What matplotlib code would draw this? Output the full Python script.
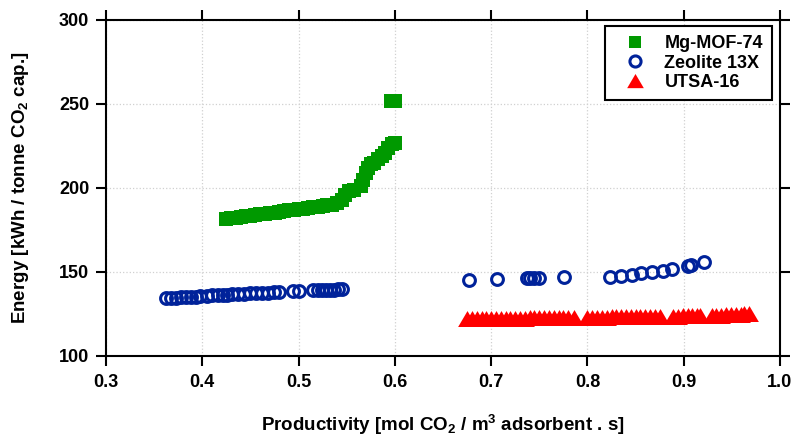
import matplotlib
matplotlib.use('Agg')
import matplotlib.pyplot as plt
from matplotlib.lines import Line2D

plt.rcParams['font.family'] = ['Liberation Sans', 'DejaVu Sans']
plt.rcParams['font.weight'] = 'bold'
plt.rcParams['font.size'] = 13
plt.rcParams['mathtext.fontset'] = 'custom'
plt.rcParams['mathtext.bf'] = 'Liberation Sans:bold'
plt.rcParams['mathtext.rm'] = 'Liberation Sans:bold'
plt.rcParams['mathtext.default'] = 'bf'

# Mg-MOF-74
mof_x = [0.425, 0.430, 0.435, 0.440, 0.445, 0.450, 0.455, 0.460, 0.465, 0.470,
         0.475, 0.480, 0.485, 0.490, 0.495, 0.500, 0.505, 0.510, 0.515, 0.520,
         0.525, 0.530, 0.535, 0.540, 0.545, 0.548, 0.552, 0.558, 0.565, 0.567,
         0.570, 0.572, 0.575, 0.578, 0.582, 0.587, 0.590, 0.593, 0.597, 0.600,
         0.596, 0.600]
mof_y = [181.5, 181.9, 182.3, 182.7, 183.1, 183.5, 183.9, 184.3, 184.7, 185.1,
         185.4, 185.8, 186.2, 186.6, 187.0, 187.3, 187.7, 188.1, 188.4, 188.8,
         189.2, 189.6, 190.0, 191.0, 193.0, 196.0, 198.0, 199.0, 201.0, 205.0,
         209.0, 212.0, 214.0, 215.0, 217.0, 219.0, 221.0, 224.0, 226.0, 227.0,
         252.0, 252.0]

# Zeolite 13X
zeo_x = [0.362, 0.368, 0.373, 0.378, 0.383, 0.388, 0.393, 0.398, 0.405, 0.410,
         0.416, 0.421, 0.426, 0.431, 0.437, 0.443, 0.450, 0.456, 0.462, 0.468,
         0.474, 0.480, 0.494, 0.500, 0.515, 0.520, 0.524, 0.528, 0.533, 0.537,
         0.541, 0.545,
         0.677, 0.706, 0.737, 0.740, 0.745, 0.750, 0.776, 0.823, 0.835, 0.846,
         0.856, 0.867, 0.878, 0.888, 0.904, 0.908, 0.921]
zeo_y = [134.4, 134.6, 134.8, 134.9, 135.1, 135.2, 135.4, 135.6, 135.8, 136.0,
         136.1, 136.3, 136.4, 136.6, 136.8, 137.0, 137.2, 137.4, 137.6, 137.7,
         137.9, 138.0, 138.4, 138.6, 139.0, 139.1, 139.2, 139.3, 139.4, 139.5,
         139.6, 139.7,
         145.2, 145.8, 146.4, 146.4, 146.5, 146.6, 147.0, 147.2, 147.6, 148.2,
         149.2, 150.0, 150.8, 151.6, 153.4, 154.0, 156.0]

# UTSA-16
utsa_x = [0.675, 0.680, 0.685, 0.690, 0.695, 0.700, 0.705, 0.710, 0.715, 0.720,
          0.725, 0.730, 0.735, 0.740, 0.745, 0.750, 0.755, 0.760, 0.765, 0.770,
          0.775, 0.780, 0.786, 0.800, 0.805, 0.810, 0.815, 0.820, 0.825, 0.830,
          0.835, 0.840, 0.845, 0.850, 0.855, 0.860, 0.865, 0.870, 0.875, 0.889,
          0.894, 0.899, 0.904, 0.909, 0.914, 0.917, 0.929, 0.934, 0.939, 0.944,
          0.949, 0.954, 0.959, 0.963, 0.968]
utsa_y = [121.8, 121.9, 121.9, 122.0, 122.0, 122.1, 122.1, 122.1, 122.2, 122.2,
          122.3, 122.3, 122.3, 122.4, 122.4, 122.4, 122.5, 122.5, 122.5, 122.6,
          122.6, 122.6, 122.7, 122.8, 122.8, 122.9, 122.9, 122.9, 123.0, 123.0,
          123.0, 123.1, 123.1, 123.1, 123.2, 123.2, 123.2, 123.3, 123.3, 123.4,
          123.4, 123.5, 123.5, 123.5, 123.6, 123.6, 123.8, 123.9, 124.0, 124.1,
          124.2, 124.3, 124.5, 124.7, 124.9]

green = '#009900'
navy = '#00229a'
red = '#ff0000'
tri = [(-1, -0.8), (1, -0.8), (0, 0.9)]

fig = plt.figure(figsize=(7.93, 4.37), dpi=100)
ax = fig.add_axes([0.1337, 0.1854, 0.8499, 0.7689])

ax.plot(mof_x, mof_y, linestyle='none', marker='s', markersize=10,
        color=green, markeredgewidth=0, zorder=3)
ax.plot(zeo_x, zeo_y, linestyle='none', marker='o', markersize=8.5,
        markerfacecolor='none', markeredgecolor=navy, markeredgewidth=2.2, zorder=3)
ax.plot(utsa_x, utsa_y, linestyle='none', marker=tri, markersize=13.5,
        color=red, markeredgewidth=0, zorder=3)

ax.set_xlim(0.3, 1.0)
ax.set_ylim(100, 300)
ax.set_xticks([0.3, 0.4, 0.5, 0.6, 0.7, 0.8, 0.9, 1.0])
ax.set_yticks([100, 150, 200, 250, 300])
ax.grid(True, color='#d0d0d0', linestyle=':', linewidth=0.9)
ax.set_axisbelow(True)

for s in ax.spines.values():
    s.set_linewidth(1.5)
ax.tick_params(direction='out', length=7, width=1.5, top=True, right=True,
               labelsize=13)
ax.tick_params(axis='x', pad=6)
ax.tick_params(axis='y', pad=5)

ax.set_xlabel('Productivity [mol CO$_2$ / m$^3$ adsorbent . s]', fontsize=13.5,
              fontweight='bold')
ax.set_ylabel('Energy [kWh / tonne CO$_2$ cap.]', fontsize=13.5,
              fontweight='bold')
ax.xaxis.set_label_coords(0.5, -0.17)
ax.yaxis.set_label_coords(-0.112, 0.5)

handles = [
    Line2D([], [], linestyle='none', marker='s', markersize=8.5, color=green,
           markeredgewidth=0, label='Mg-MOF-74'),
    Line2D([], [], linestyle='none', marker='o', markersize=8, markerfacecolor='none',
           markeredgecolor=navy, markeredgewidth=2.2, label='Zeolite 13X'),
    Line2D([], [], linestyle='none', marker=tri, markersize=12, color=red,
           markeredgewidth=0, label='UTSA-16'),
]
leg = ax.legend(handles=handles, loc='upper right', bbox_to_anchor=(0.988, 0.982),
                borderaxespad=0, fancybox=False, framealpha=1, edgecolor='black',
                prop={'weight': 'bold', 'size': 13}, labelspacing=0.15,
                handlelength=2.4, handletextpad=0.4, borderpad=0.5)
leg.get_frame().set_linewidth(1.5)

fig.savefig('out.png', dpi=100)
